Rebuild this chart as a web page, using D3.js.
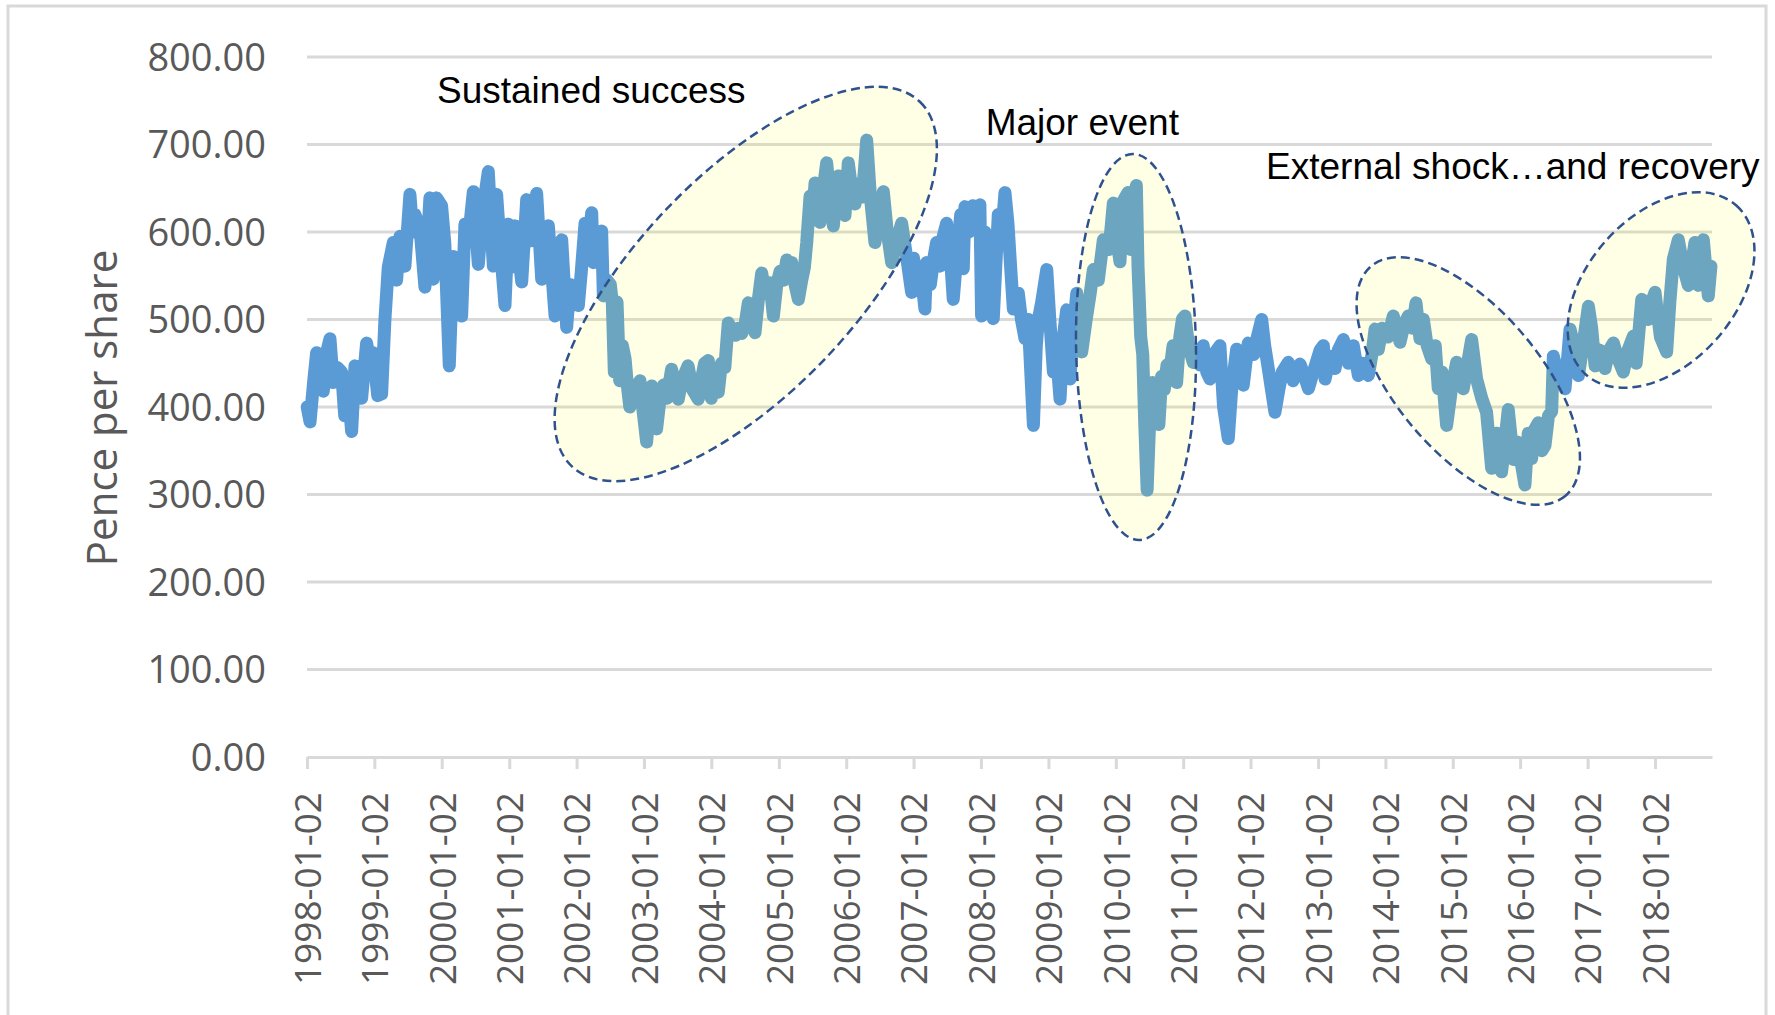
<!DOCTYPE html>
<html>
<head>
<meta charset="utf-8">
<script src="https://cdn.jsdelivr.net/npm/d3@7"></script>
<style>
  body { margin: 0; background: #fff; }
</style>
</head>
<body>
<div class="chart"></div>
<script>
// Share price, pence per share. Dates are decimal years counted from each year's first trading day (Jan 2).
var dateYears = [
  1998.003, 1998.045, 1998.100, 1998.143, 1998.200, 1998.242, 1998.300, 1998.341, 1998.390, 1998.450, 1998.514, 1998.560, 1998.610, 1998.663, 1998.712, 1998.760, 1998.811, 1998.885, 1998.930, 1998.984,
  1999.050, 1999.108, 1999.157, 1999.207, 1999.281, 1999.330, 1999.380, 1999.454, 1999.528, 1999.570, 1999.602, 1999.677, 1999.751, 1999.825, 1999.874, 1999.924, 1999.998,
  2000.047, 2000.112, 2000.171, 2000.230, 2000.295, 2000.344, 2000.400, 2000.468, 2000.542, 2000.600, 2000.690, 2000.764, 2000.813, 2000.870, 2000.937, 2000.987,
  2001.040, 2001.086, 2001.140, 2001.185, 2001.259, 2001.300, 2001.330, 2001.407, 2001.482, 2001.530, 2001.581, 2001.680, 2001.730, 2001.779, 2001.853, 2001.900, 2001.927, 2001.980,
  2002.026, 2002.070, 2002.125, 2002.180, 2002.224, 2002.248, 2002.322, 2002.372, 2002.397, 2002.450, 2002.500, 2002.530, 2002.560, 2002.600, 2002.640, 2002.680, 2002.720, 2002.760, 2002.790, 2002.840, 2002.890, 2002.940, 2002.980,
  2003.040, 2003.080, 2003.114, 2003.150, 2003.188, 2003.240, 2003.290, 2003.340, 2003.410, 2003.460, 2003.510, 2003.560, 2003.655, 2003.720, 2003.806, 2003.850, 2003.900, 2003.955,
  2004.000, 2004.050, 2004.103, 2004.150, 2004.200, 2004.251, 2004.300, 2004.360, 2004.400, 2004.450, 2004.499, 2004.548, 2004.600, 2004.647, 2004.700, 2004.746, 2004.800, 2004.869, 2004.919, 2004.970,
  2005.018, 2005.070, 2005.117, 2005.160, 2005.191, 2005.240, 2005.290, 2005.340, 2005.380, 2005.414, 2005.463, 2005.500, 2005.537, 2005.580, 2005.611, 2005.660, 2005.710, 2005.760, 2005.809, 2005.850, 2005.883, 2005.930, 2005.982,
  2006.031, 2006.080, 2006.131, 2006.180, 2006.240, 2006.304, 2006.360, 2006.427, 2006.490, 2006.551, 2006.610, 2006.675, 2006.750, 2006.823, 2006.900, 2006.971,
  2007.000, 2007.050, 2007.100, 2007.169, 2007.194, 2007.250, 2007.300, 2007.342, 2007.392, 2007.440, 2007.490, 2007.540, 2007.589, 2007.650, 2007.700, 2007.738, 2007.763, 2007.820, 2007.880, 2007.930, 2007.985,
  2008.010, 2008.060, 2008.120, 2008.183, 2008.220, 2008.257, 2008.300, 2008.356, 2008.400, 2008.440, 2008.480, 2008.554, 2008.600, 2008.653, 2008.700, 2008.777, 2008.820, 2008.851, 2008.900, 2008.975,
  2009.020, 2009.073, 2009.120, 2009.172, 2009.220, 2009.271, 2009.320, 2009.360, 2009.420, 2009.494, 2009.560, 2009.620, 2009.667, 2009.740, 2009.815, 2009.900, 2009.963,
  2010.000, 2010.062, 2010.100, 2010.180, 2010.220, 2010.250, 2010.305, 2010.330, 2010.370, 2010.400, 2010.430, 2010.465, 2010.510, 2010.540, 2010.580, 2010.640, 2010.681, 2010.720, 2010.760, 2010.800, 2010.850, 2010.903, 2010.950, 2010.990,
  2011.027, 2011.080, 2011.150, 2011.200, 2011.250, 2011.298, 2011.350, 2011.398, 2011.450, 2011.546, 2011.600, 2011.670, 2011.720, 2011.794, 2011.850, 2011.892, 2011.966,
  2012.050, 2012.100, 2012.165, 2012.210, 2012.263, 2012.310, 2012.362, 2012.420, 2012.470, 2012.560, 2012.630, 2012.733, 2012.800, 2012.857, 2012.930,
  2013.030, 2013.079, 2013.104, 2013.180, 2013.252, 2013.300, 2013.376, 2013.450, 2013.524, 2013.598, 2013.660, 2013.747, 2013.800, 2013.846, 2013.895, 2013.950,
  2014.040, 2014.117, 2014.217, 2014.280, 2014.340, 2014.400, 2014.454, 2014.513, 2014.563, 2014.620, 2014.687, 2014.740, 2014.785, 2014.840, 2014.909, 2014.980,
  2015.057, 2015.156, 2015.220, 2015.280, 2015.354, 2015.430, 2015.502, 2015.577, 2015.650, 2015.725, 2015.800, 2015.824, 2015.900, 2015.960,
  2016.030, 2016.071, 2016.120, 2016.170, 2016.220, 2016.269, 2016.320, 2016.368, 2016.420, 2016.467, 2016.492, 2016.550, 2016.620, 2016.665, 2016.739, 2016.800, 2016.863, 2016.930,
  2017.011, 2017.060, 2017.110, 2017.180, 2017.258, 2017.320, 2017.382, 2017.450, 2017.530, 2017.600, 2017.679, 2017.720, 2017.803, 2017.850, 2017.901, 2017.950,
  2018.000, 2018.080, 2018.173, 2018.220, 2018.272, 2018.346, 2018.420, 2018.494, 2018.593, 2018.643, 2018.717, 2018.791, 2018.830
];

var pricePence = [
  400, 383, 430, 462, 450, 418, 465, 478, 428, 445, 440, 390, 420, 372, 447, 420, 410, 473, 455, 462,
  413, 415, 500, 560, 588, 545, 595, 561, 643, 600, 620, 605, 537, 639, 546, 639, 630,
  586, 447, 572, 540, 504, 609, 595, 646, 563, 620, 669, 561, 643, 580, 516, 609,
  560, 607, 575, 543, 637, 600, 590, 644, 546, 590, 607, 504, 560, 591, 491, 540, 516, 530,
  516, 555, 610, 590, 622, 565, 590, 601, 527, 545, 540, 520, 440, 520, 430, 470, 455, 420, 400, 425, 415, 430, 400,
  360, 400, 424, 400, 375, 410, 425, 410, 443, 425, 409, 430, 447, 420, 409, 430, 450, 453,
  410, 440, 417, 450, 445, 496, 488, 482, 490, 484, 494, 519, 505, 485, 525, 553, 530, 542, 504, 540,
  555, 545, 568, 555, 565, 540, 523, 545, 560, 588, 641, 615, 656, 630, 611, 650, 679, 640, 607, 640, 664, 635, 619,
  679, 650, 632, 655, 640, 705, 640, 588, 620, 646, 600, 565, 590, 610, 570, 531,
  570, 540, 560, 512, 565, 540, 570, 588, 561, 595, 610, 580, 523, 580, 620, 558, 629, 600, 630, 620, 631,
  504, 600, 550, 501, 560, 620, 590, 645, 610, 560, 512, 530, 500, 478, 500, 379, 470, 500, 520, 557,
  500, 440, 460, 409, 480, 511, 432, 480, 530, 463, 500, 530, 557, 545, 591, 580, 633,
  600, 566, 634, 645, 580, 635, 653, 560, 480, 460, 380, 305, 400, 428, 410, 380, 435, 420, 448, 440, 470, 428, 480, 501,
  504, 470, 451, 465, 448, 470, 440, 432, 460, 470, 400, 364, 420, 466, 440, 425, 473,
  460, 480, 500, 470, 444, 420, 394, 420, 440, 451, 430, 449, 435, 421, 440,
  465, 470, 432, 458, 444, 465, 477, 450, 470, 436, 450, 436, 460, 489, 466, 490,
  480, 504, 474, 495, 504, 490, 519, 478, 500, 470, 455, 470, 421, 440, 379, 420,
  451, 421, 450, 477, 432, 410, 394, 330, 370, 326, 380, 397, 340, 360,
  330, 311, 370, 341, 375, 382, 350, 356, 390, 395, 458, 440, 435, 421, 489, 470, 436, 470,
  515, 490, 447, 465, 444, 465, 473, 455, 440, 465, 481, 450, 523, 505, 500, 520,
  531, 480, 463, 520, 569, 591, 560, 539, 588, 539, 591, 527, 561
];

var tickLabels = ["1998-01-02", "1999-01-02", "2000-01-02", "2001-01-02", "2002-01-02", "2003-01-02", "2004-01-02",
  "2005-01-02", "2006-01-02", "2007-01-02", "2008-01-02", "2009-01-02", "2010-01-02", "2011-01-02", "2012-01-02",
  "2013-01-02", "2014-01-02", "2015-01-02", "2016-01-02", "2017-01-02", "2018-01-02"];
var yTicks = [0, 100, 200, 300, 400, 500, 600, 700, 800];
var lastYear = 2018.846;

// annotations
var noteLabels = ["Sustained success", "Major event", "External shock\u2026and recovery"];
var noteYears = [1999.93, 2008.07, 2012.23];
var noteValues = [748, 711, 661];

var ringYears = [2004.51, 2010.30, 2015.23, 2018.09];
var ringValues = [540.6, 468.6, 429.7, 533.7];
var ringHalfYears = [3.74, 0.89, 2.23, 1.68];
var ringHalfPence = [124.6, 220.6, 82.3, 84.6];
var ringAngles = [-46.3, -1, 49.7, -48.3];

if (dateYears.length !== pricePence.length) console.warn("length mismatch", dateYears.length, pricePence.length);

function yearToDate(t) {
  var y = Math.floor(t);
  var start = Date.UTC(y, 0, 2), end = Date.UTC(y + 1, 0, 2);
  return new Date(start + (t - y) * (end - start));
}

var svgWidth = 1775;
var svgHeight = 1015;
var margin = { top: 57, left: 307 };
var width = 1405;
var height = 700;

var svg = d3.select(".chart")
  .append("svg")
  .attr("width", svgWidth)
  .attr("height", svgHeight);

// chart frame
svg.append("rect")
  .attr("x", 8).attr("y", 6)
  .attr("width", 1758).attr("height", 1050)
  .attr("fill", "#fff")
  .attr("stroke", "#d9d9d9")
  .attr("stroke-width", 3);

var chartGroup = svg.append("g")
  .attr("transform", `translate(${margin.left}, ${margin.top})`);

var xScale = d3.scaleUtc()
  .domain([yearToDate(1998), yearToDate(lastYear)])
  .range([0, width]);

var yScale = d3.scaleLinear()
  .domain([0, 800])
  .range([height, 0]);

// gridlines
chartGroup.selectAll(".grid")
  .data(yTicks.filter(d => d > 0))
  .enter()
  .append("line")
  .attr("x1", 0)
  .attr("x2", width)
  .attr("y1", d => yScale(d))
  .attr("y2", d => yScale(d))
  .attr("stroke", "#d9d9d9")
  .attr("stroke-width", 3);

// y tick labels
chartGroup.selectAll(".ylab")
  .data(yTicks)
  .enter()
  .append("text")
  .attr("x", -41)
  .attr("y", d => yScale(d))
  .attr("dy", "0.36em")
  .attr("text-anchor", "end")
  .attr("font-family", "'Open Sans', sans-serif")
  .attr("font-size", "38px")
  .attr("fill", "#595959")
  .text(d => d3.format(".2f")(d));

// x axis
var parseDay = d3.utcParse("%Y-%m-%d");
var bottomAxis = d3.axisBottom(xScale)
  .tickValues(tickLabels.map(parseDay))
  .tickFormat(d3.utcFormat("%Y-%m-%d"))
  .tickSize(12)
  .tickSizeOuter(0);

var xAxis = chartGroup.append("g")
  .attr("transform", `translate(0, ${height})`)
  .call(bottomAxis);

xAxis.select(".domain").attr("stroke", "#d9d9d9").attr("stroke-width", 3);
xAxis.selectAll(".tick line").attr("stroke", "#d9d9d9").attr("stroke-width", 3);
xAxis.selectAll(".tick text")
  .attr("transform", "rotate(-90)")
  .attr("x", -35)
  .attr("y", 0)
  .attr("dy", "0.36em")
  .style("text-anchor", "end")
  .attr("font-family", "'Open Sans', sans-serif")
  .attr("font-size", "37px")
  .attr("fill", "#595959");

// y axis title
chartGroup.append("text")
  .attr("transform", `translate(${102 - margin.left}, ${408 - margin.top}) rotate(-90)`)
  .attr("dy", "0.36em")
  .attr("text-anchor", "middle")
  .attr("font-family", "'Open Sans', sans-serif")
  .attr("font-size", "42px")
  .attr("fill", "#595959")
  .text("Pence per share");

// price line
var series = dateYears.map((t, i) => ({ date: yearToDate(t), value: pricePence[i] }));

var line = d3.line()
  .x(d => xScale(d.date))
  .y(d => yScale(d.value));

chartGroup.append("path")
  .datum(series)
  .attr("d", line)
  .attr("fill", "none")
  .attr("stroke", "#5b9bd5")
  .attr("stroke-width", 13)
  .attr("stroke-linejoin", "round")
  .attr("stroke-linecap", "round");

// highlight ellipses
chartGroup.selectAll(".ring")
  .data(ringYears)
  .enter()
  .append("ellipse")
  .attr("transform", (d, i) => `translate(${xScale(yearToDate(d))}, ${yScale(ringValues[i])}) rotate(${ringAngles[i]})`)
  .attr("rx", (d, i) => xScale(yearToDate(d + ringHalfYears[i])) - xScale(yearToDate(d)))
  .attr("ry", (d, i) => yScale(0) - yScale(ringHalfPence[i]))
  .attr("fill", "#ffff00")
  .attr("fill-opacity", 0.1)
  .attr("stroke", "#2f528f")
  .attr("stroke-width", 2.5)
  .attr("stroke-dasharray", "9,5");

// annotation text
chartGroup.selectAll(".note")
  .data(noteLabels)
  .enter()
  .append("text")
  .attr("x", (d, i) => xScale(yearToDate(noteYears[i])))
  .attr("y", (d, i) => yScale(noteValues[i]))
  .attr("font-family", "'Liberation Sans', Arial, sans-serif")
  .attr("font-size", "37px")
  .attr("fill", "#000")
  .text(d => d);
</script>
</body>
</html>
